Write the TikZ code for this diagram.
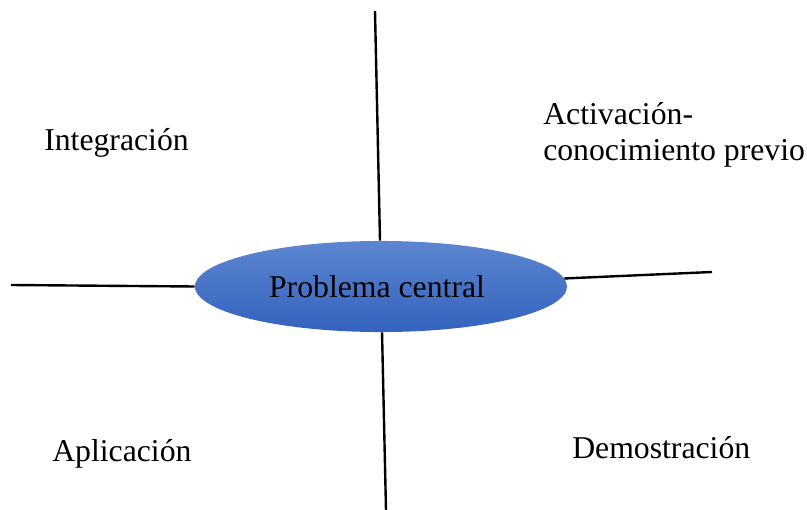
\documentclass[tikz,border=0pt]{standalone}
\usepackage{fontspec}
\setmainfont{Liberation Serif}
\usepackage{tikz}
\usetikzlibrary{shapes.geometric}
\usepackage{xcolor}
\definecolor{azulclaro}{RGB}{92,134,208}
\definecolor{azuloscuro}{RGB}{52,98,190}
\newcommand{\etiqueta}{\fontsize{23.8pt}{26.3pt}\selectfont}
\tikzset{
    eje/.style={line width=1.8pt,black},
    fase/.style={inner sep=0pt,anchor=base west,align=left,font=\etiqueta},
    nucleo/.style={ellipse,inner sep=0pt,minimum width=279pt,minimum height=68.3pt,
        top color=azulclaro,bottom color=azuloscuro,font=\etiqueta}
}

\begin{document}
\begin{tikzpicture}[x=0.75pt,y=-0.75pt]
    \useasboundingbox (0,0) rectangle (807,510);

    \node[nucleo] (centro) at (381,286.5) {Problema central\kern 6pt};

    \coordinate (arriba) at (375,11);
    \coordinate (abajo) at (386,510);
    \coordinate (izquierda) at (11,285);
    \coordinate (derecha) at (712,272);

    \draw[eje] (arriba) -- (centro);
    \draw[eje] (abajo) -- (centro);
    \draw[eje] (izquierda) -- (centro.west);
    \draw[eje] (derecha) -- (centro);

    % base west of a two-line node sits on the last line
    \node[fase] (integracion) at (44,150) {Integración};
    \node[fase] (activacion) at (543,160) {Activación-\\conocimiento previo};
    \node[fase] (aplicacion) at (52,461) {Aplicación};
    \node[fase] (demostracion) at (572,458) {Demostración};
\end{tikzpicture}
\end{document}
